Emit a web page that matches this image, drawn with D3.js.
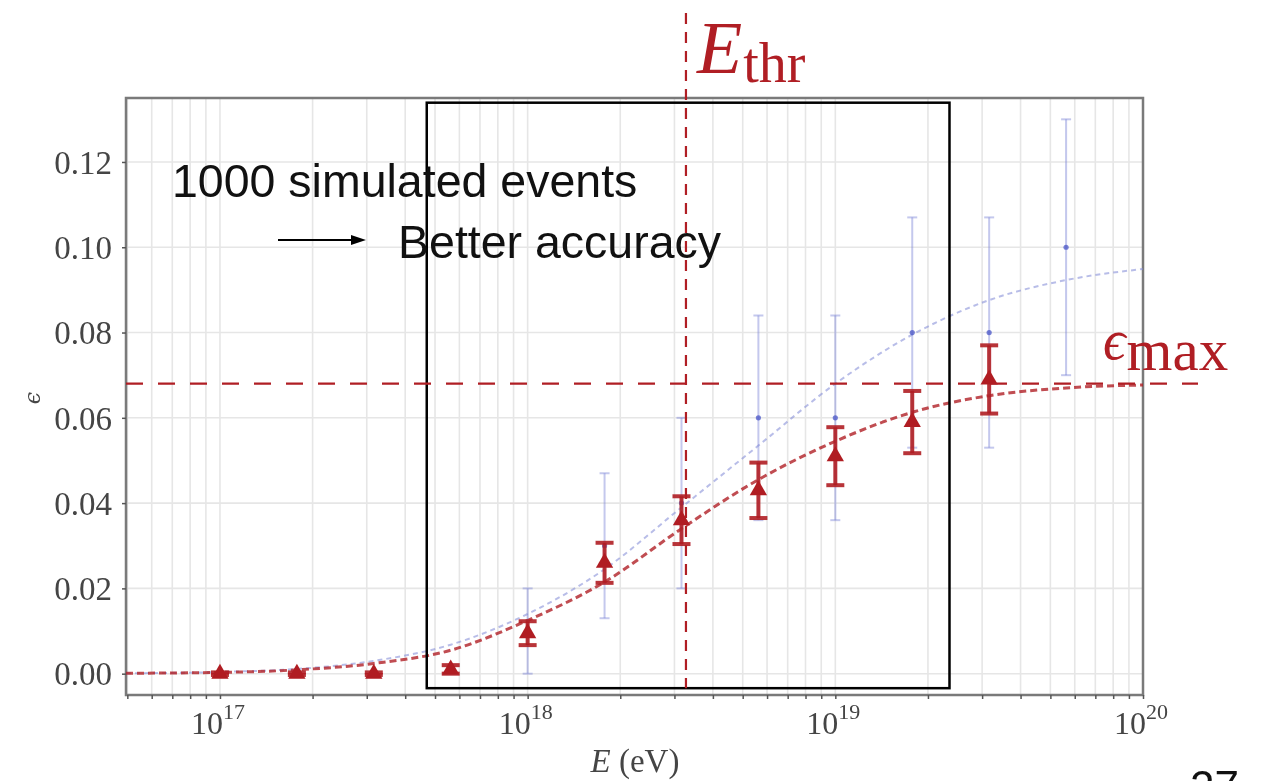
<!DOCTYPE html>
<html>
<head>
<meta charset="utf-8">
<script src="https://cdn.jsdelivr.net/npm/d3@7/dist/d3.min.js"></script>
<style>
  html, body { margin: 0; padding: 0; background: #fff; }
  svg { display: block; }
</style>
</head>
<body>
<svg id="chart" width="1261" height="781"></svg>
<script>
// Energy bins are given as log10(E / eV)
const redExp  = [17, 17.25, 17.5, 17.75, 18, 18.25, 18.5, 18.75, 19, 19.25, 19.5];
const redEff  = [0.0000, 0.0000, 0.0000, 0.0010, 0.0095, 0.0260, 0.0360, 0.0430, 0.0510, 0.0590, 0.0690];
const redErr  = [0.0003, 0.0003, 0.0003, 0.0010, 0.0028, 0.0047, 0.0056, 0.0065, 0.0068, 0.0073, 0.0080];

const blueExp = [18, 18.25, 18.5, 18.75, 19, 19.25, 19.5, 19.75];
const blueEff = [0.010, 0.030, 0.040, 0.060, 0.060, 0.080, 0.080, 0.100];
const blueErr = [0.010, 0.017, 0.020, 0.024, 0.024, 0.027, 0.027, 0.030];

// Fitted efficiency curves sampled along the energy axis
const fitExp  = [16.69, 17, 17.25, 17.5, 17.75, 18, 18.25, 18.5, 18.75, 19, 19.25, 19.5, 19.75, 20];
const redFit  = [0.0001, 0.0003, 0.0009, 0.0024, 0.0055, 0.0125, 0.0215, 0.0340, 0.0455, 0.0545, 0.0613, 0.0652, 0.0670, 0.0677];
const blueFit = [0.0001, 0.0004, 0.0011, 0.0030, 0.0068, 0.0140, 0.0245, 0.0390, 0.0535, 0.0680, 0.0795, 0.0876, 0.0923, 0.0949];

const yTickValues = [0.00, 0.02, 0.04, 0.06, 0.08, 0.10, 0.12];
const xMajorExp   = [17, 18, 19, 20];

const epsMax = 0.068;
const energyThr = 3.27e18;
// Highlighted energy window
const boxEnergy = [4.7e17, 2.35e19];
const boxEps = [-0.0034, 0.1339];

const RED = "#b01e24";
const BLUE = "#7d86d6";

const svg = d3.select("#chart");
svg.append("rect").attr("width", 1261).attr("height", 781).attr("fill", "#fff");

const defs = svg.append("defs");
defs.append("filter").attr("id", "soft")
  .append("feGaussianBlur").attr("stdDeviation", 0.7);

const x = d3.scaleLog().domain([4.95e16, 1e20]).range([126, 1143]);
const y = d3.scaleLinear().domain([-0.005, 0.135]).range([695, 98]);
const E = e => Math.pow(10, e);

const plot = svg.append("g").attr("filter", "url(#soft)");

// grid
const xAll = x.ticks();
plot.append("g").selectAll("line").data(xAll).join("line")
  .attr("x1", d => x(d)).attr("x2", d => x(d))
  .attr("y1", 98).attr("y2", 695)
  .attr("stroke", "#e6e6e6").attr("stroke-width", 1.6);
plot.append("g").selectAll("line").data(yTickValues).join("line")
  .attr("x1", 126).attr("x2", 1143)
  .attr("y1", d => y(d)).attr("y2", d => y(d))
  .attr("stroke", "#e6e6e6").attr("stroke-width", 1.6);

// frame
plot.append("rect").attr("x", 126).attr("y", 98).attr("width", 1143 - 126).attr("height", 695 - 98)
  .attr("fill", "none").attr("stroke", "#7a7a7a").attr("stroke-width", 2.5);

// y axis
const gy = plot.append("g").attr("transform", "translate(126,0)")
  .call(d3.axisLeft(y).tickValues(yTickValues).tickSize(4).tickPadding(10).tickFormat(d3.format(".2f")));
gy.select(".domain").remove();
gy.selectAll(".tick line").attr("stroke", "#555").attr("stroke-width", 1.5);
gy.selectAll(".tick text")
  .attr("font-family", "'Liberation Serif', serif").attr("font-size", 33)
  .attr("fill", "#444").attr("dy", "0.34em");

// x axis ticks
const gx = plot.append("g").attr("transform", "translate(0,695)")
  .call(d3.axisBottom(x).tickValues(xAll).tickSize(4).tickFormat(""));
gx.select(".domain").remove();
gx.selectAll(".tick line").attr("stroke", "#555").attr("stroke-width", 1.5);

// x tick labels 10^n
const lab = plot.append("g").selectAll("text").data(xMajorExp).join("text")
  .attr("x", d => x(E(d)) - 2).attr("y", 734)
  .attr("text-anchor", "middle")
  .attr("font-family", "'Liberation Serif', serif").attr("fill", "#444");
lab.append("tspan").attr("font-size", 32).text("10");
lab.append("tspan").attr("font-size", 22).attr("dy", -15).text(d => d);

// axis titles
const xt = plot.append("text").attr("x", 635).attr("y", 772).attr("text-anchor", "middle")
  .attr("font-family", "'Liberation Serif', serif").attr("font-size", 33).attr("fill", "#444");
xt.append("tspan").attr("font-style", "italic").text("E");
xt.append("tspan").text(" (eV)");
plot.append("text").attr("transform", "translate(40,398) rotate(-90)")
  .attr("text-anchor", "middle")
  .attr("font-family", "'DejaVu Serif', serif").attr("font-style", "italic")
  .attr("font-size", 22).attr("fill", "#444").text("ϵ");

// fitted curves
const line = d3.line().curve(d3.curveMonotoneX);
plot.append("path")
  .attr("d", line(fitExp.map((e, i) => [x(E(Math.max(e, 16.6946))), y(blueFit[i])])))
  .attr("fill", "none").attr("stroke", BLUE).attr("stroke-opacity", 0.55)
  .attr("stroke-width", 2).attr("stroke-dasharray", "5,4");
plot.append("path")
  .attr("d", line(fitExp.map((e, i) => [x(E(Math.max(e, 16.6946))), y(redFit[i])])))
  .attr("fill", "none").attr("stroke", RED).attr("stroke-opacity", 0.8)
  .attr("stroke-width", 3).attr("stroke-dasharray", "7,4");

// blue points with error bars
const blue = blueExp.map((e, i) => ({ e: E(e), v: blueEff[i], err: blueErr[i] }));
const gb = plot.append("g").attr("stroke", BLUE).attr("stroke-opacity", 0.45).attr("stroke-width", 2);
gb.selectAll(".bar").data(blue).join("line")
  .attr("x1", d => x(d.e)).attr("x2", d => x(d.e))
  .attr("y1", d => y(d.v - d.err)).attr("y2", d => y(d.v + d.err));
[-1, 1].forEach(s => {
  gb.selectAll(".cap" + s).data(blue).join("line")
    .attr("x1", d => x(d.e) - 5).attr("x2", d => x(d.e) + 5)
    .attr("y1", d => y(d.v + s * d.err)).attr("y2", d => y(d.v + s * d.err));
});
plot.append("g").selectAll("circle").data(blue).join("circle")
  .attr("cx", d => x(d.e)).attr("cy", d => y(d.v)).attr("r", 2.6)
  .attr("fill", "#4a55c8").attr("fill-opacity", 0.75);

// red points with error bars
const red = redExp.map((e, i) => ({ e: E(e), v: redEff[i], err: redErr[i] }));
const gr = plot.append("g").attr("stroke", RED).attr("stroke-opacity", 0.9);
gr.selectAll(".bar").data(red).join("line")
  .attr("x1", d => x(d.e)).attr("x2", d => x(d.e))
  .attr("y1", d => y(d.v - d.err)).attr("y2", d => y(d.v + d.err))
  .attr("stroke-width", 4);
[-1, 1].forEach(s => {
  gr.selectAll(".cap" + s).data(red).join("line")
    .attr("x1", d => x(d.e) - 9).attr("x2", d => x(d.e) + 9)
    .attr("y1", d => y(d.v + s * d.err)).attr("y2", d => y(d.v + s * d.err))
    .attr("stroke-width", 4);
});
plot.append("g").selectAll("path").data(red).join("path")
  .attr("transform", d => `translate(${x(d.e)},${y(d.v)})`)
  .attr("d", d3.symbol(d3.symbolTriangle, 130))
  .attr("fill", RED);

// annotations (crisp overlay)
const ann = svg.append("g");
ann.append("rect")
  .attr("x", x(boxEnergy[0])).attr("y", y(boxEps[1]))
  .attr("width", x(boxEnergy[1]) - x(boxEnergy[0]))
  .attr("height", y(boxEps[0]) - y(boxEps[1]))
  .attr("fill", "none").attr("stroke", "#000").attr("stroke-width", 2.5);

ann.append("line")
  .attr("x1", x(energyThr)).attr("x2", x(energyThr))
  .attr("y1", 13).attr("y2", y(boxEps[0]))
  .attr("stroke", RED).attr("stroke-width", 2.2).attr("stroke-dasharray", "11,8");
ann.append("line")
  .attr("x1", 126).attr("x2", 1198)
  .attr("y1", y(epsMax)).attr("y2", y(epsMax))
  .attr("stroke", RED).attr("stroke-width", 2.2).attr("stroke-dasharray", "17,15");

const thr = ann.append("text").attr("x", 697).attr("y", 73)
  .attr("font-family", "'Liberation Serif', serif").attr("fill", RED);
thr.append("tspan").attr("font-style", "italic").attr("font-size", 74).text("E");
thr.append("tspan").attr("font-size", 56).attr("dy", 9).attr("dx", 1).text("thr");

const em = ann.append("text").attr("x", 1103).attr("y", 359)
  .attr("font-family", "'Liberation Serif', 'DejaVu Serif', serif").attr("fill", RED);
em.append("tspan").attr("font-style", "italic").attr("font-size", 56).text("ϵ");
em.append("tspan").attr("font-size", 59).attr("dy", 11).attr("dx", 1).text("max");

ann.append("text").attr("x", 172).attr("y", 197)
  .attr("font-family", "'Liberation Sans', Arial, sans-serif").attr("font-size", 46.5)
  .attr("fill", "#111").text("1000 simulated events");
ann.append("text").attr("x", 398).attr("y", 258)
  .attr("font-family", "'Liberation Sans', Arial, sans-serif").attr("font-size", 46.5)
  .attr("fill", "#111").text("Better accuracy");

ann.append("line").attr("x1", 278).attr("x2", 353).attr("y1", 240).attr("y2", 240)
  .attr("stroke", "#000").attr("stroke-width", 2);
ann.append("path").attr("d", "M351,235 L366,240 L351,245 Z").attr("fill", "#000");

ann.append("text").attr("x", 1190).attr("y", 802)
  .attr("font-family", "'Liberation Sans', Arial, sans-serif").attr("font-size", 44)
  .attr("fill", "#111").text("27");
</script>
</body>
</html>
